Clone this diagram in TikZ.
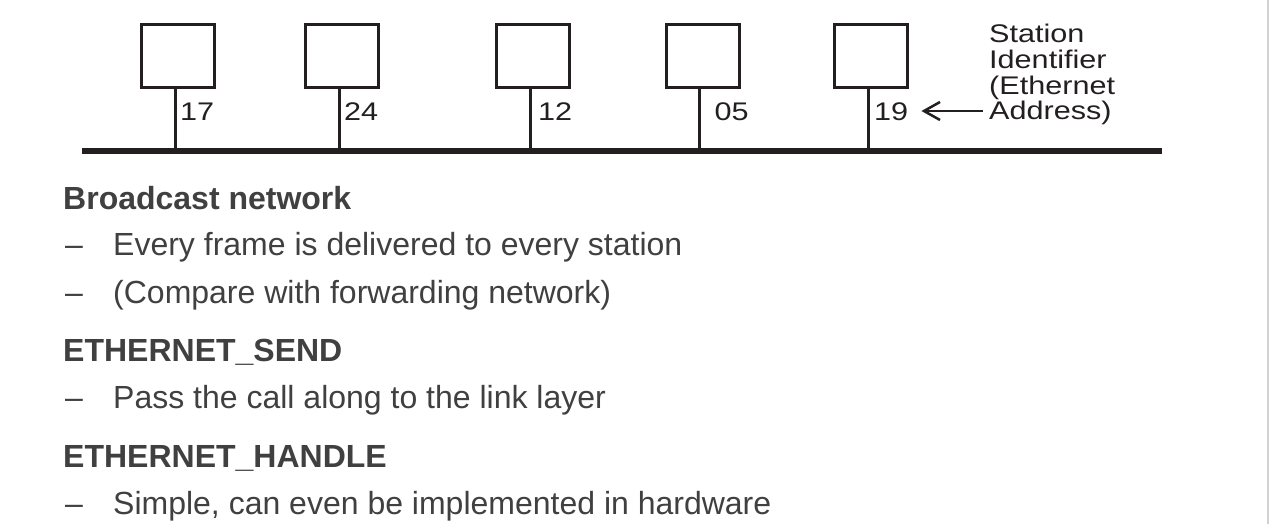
\documentclass[tikz,border=0pt]{standalone}
\usepackage{fontspec}
\setmainfont{Liberation Sans}
\newfontfamily\figfont[FakeStretch=1.2]{Liberation Sans}
\usetikzlibrary{arrows.meta}
\definecolor{figink}{HTML}{231F20}
\definecolor{txtink}{HTML}{404040}
\tikzset{
  stabox/.style={draw=figink, line width=3pt, minimum width=73pt, minimum height=63pt, inner sep=0pt},
  stem/.style={draw=figink, line width=3pt},
  bus/.style={draw=figink, line width=6pt},
  lab/.style={anchor=base west, inner sep=0pt, text=figink, font=\figfont\fontsize{25.5}{25.7}\selectfont},
  arr/.style={draw=figink, line width=2.5pt, -{Straight Barb[length=16pt,width=18pt,line width=2.5pt]}},
  head/.style={anchor=base west, inner sep=0pt, text=txtink, font=\bfseries\fontsize{32}{38}\selectfont},
  item/.style={anchor=base west, inner sep=0pt, text=txtink, font=\fontsize{32}{38}\selectfont},
}
\begin{document}
\begin{tikzpicture}[x=1pt,y=-1pt]
\useasboundingbox (0,0) rectangle (1269,524);
\fill[white] (0,0) rectangle (1269,524);
\draw[gray!35, line width=1.5pt] (1268,0) -- (1268,524);
% bus
\coordinate (busL) at (82,151);
\coordinate (busR) at (1162,151);
% stations
\node[stabox] (b1) at (178,56) {};
\node[stabox] (b2) at (342,56) {};
\node[stabox] (b3) at (532.5,56) {};
\node[stabox] (b4) at (703,56) {};
\node[stabox] (b5) at (871,56) {};
\coordinate (t1) at (175,151);
\coordinate (t2) at (339,151);
\coordinate (t3) at (530,151);
\coordinate (t4) at (699,151);
\coordinate (t5) at (868,151);
\foreach \i in {1,...,5} {\draw[stem] (b\i.south -| t\i) -- (t\i);}
\draw[bus] (busL) -- (busR);
% labels
\node[lab] (l1) at (180,121) {17};
\node[lab] (l2) at (344,121) {24};
\node[lab] (l3) at (538,121) {12};
\node[lab] (l4) at (714.5,121) {05};
\node[lab] (l5) at (874,121) {19};
\node[lab, align=left] (sid) at (989,120) {Station\\Identifier\\(Ethernet\\Address)};
\coordinate (astart) at (983,111);
\draw[arr] (astart) -- ([xshift=13pt]l5.east |- astart);
% text
\node[head] (h1) at (63,209) {Broadcast network};
\node[item] (d1) at (65,255) {–};
\node[item] (i1) at (113,255) {Every frame is delivered to every station};
\node[item] (d2) at (65,303) {–};
\node[item] (i2) at (113,303) {(Compare with forwarding network)};
\node[head] (h2) at (63,361) {ETHERNET\_SEND};
\node[item] (d3) at (65,408) {–};
\node[item] (i3) at (113,408) {Pass the call along to the link layer};
\node[head] (h3) at (63,467) {ETHERNET\_HANDLE};
\node[item] (d4) at (65,514) {–};
\node[item] (i4) at (113,514) {Simple, can even be implemented in hardware};
\end{tikzpicture}
\end{document}
